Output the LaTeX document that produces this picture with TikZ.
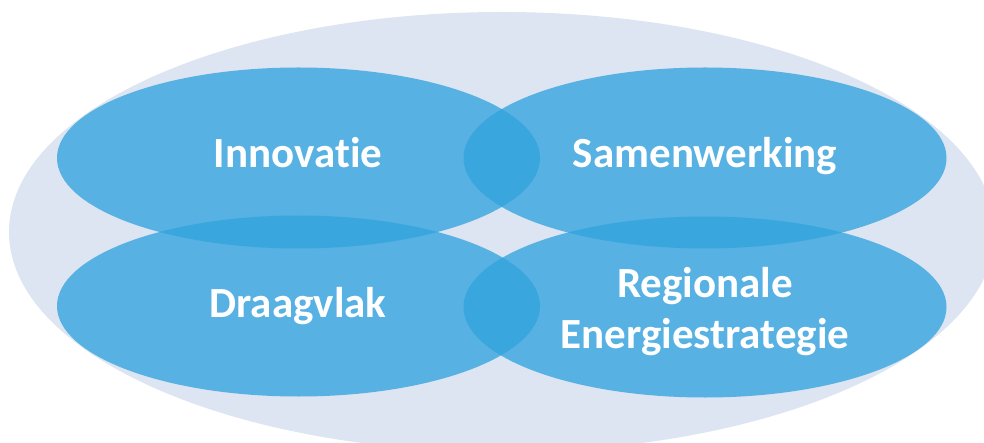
\documentclass[tikz,border=0pt]{standalone}
\usepackage{fontspec}
\setmainfont{Carlito}[Ligatures={NoCommon}]
\usetikzlibrary{shapes.geometric}
\definecolor{bgblue}{RGB}{220,229,241}
\definecolor{ovalblue}{RGB}{50,163,222}
\begin{document}
\begin{tikzpicture}[x=1pt,y=-1pt,
  oval/.style={ellipse, draw=none, minimum width=483pt, minimum height=181pt,
    inner sep=0pt, outer sep=0pt, fill=ovalblue, fill opacity=0.78},
  lbl/.style={text=white, font=\bfseries\fontsize{43}{51}\selectfont, align=center, inner sep=0pt}]
\useasboundingbox (0,0) rectangle (984,443);
\clip (0,0) rectangle (984,443);
\node[ellipse, draw=none, fill=bgblue, minimum width=986pt, minimum height=440pt, inner sep=0pt] (bg) at (502,232) {};
\node[oval] (inn) at (298.5,158) {};
\node[oval] (sam) at (705,158) {};
\node[oval] (dra) at (298.5,306) {};
\node[oval] (reg) at (705,307) {};
\node[lbl, anchor=base] (tinn) at (298,168) {Innovatie};
\node[lbl, anchor=base] (tsam) at (705,168) {Samenwerking};
\node[lbl, anchor=base] (tdra) at (298,317) {Draagvlak};
\node[lbl, anchor=base] (treg) at (705,348) {Regionale\\Energiestrategie};
\end{tikzpicture}
\end{document}
